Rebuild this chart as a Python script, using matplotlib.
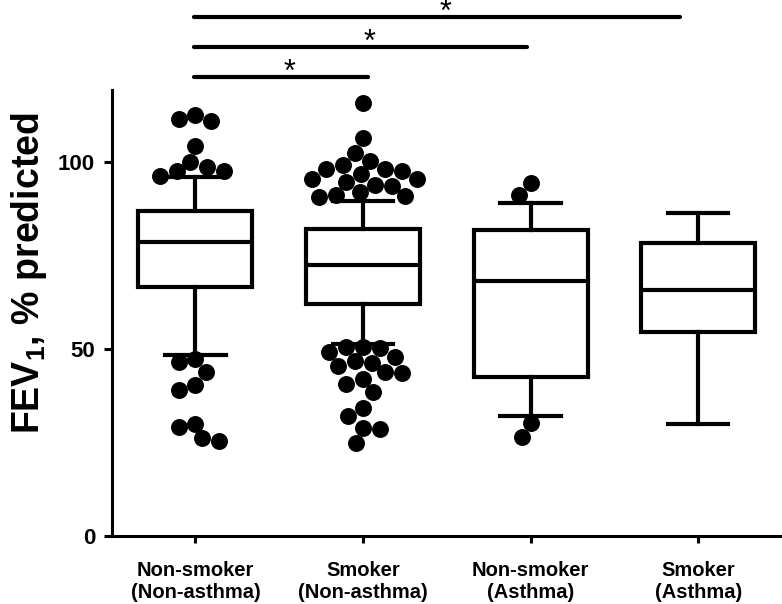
import numpy as np
import matplotlib
matplotlib.use('Agg')
import matplotlib.pyplot as plt

plt.rcParams['font.family'] = ['Liberation Sans', 'DejaVu Sans']
plt.rcParams['mathtext.fontset'] = 'custom'
plt.rcParams['mathtext.rm'] = 'Liberation Sans'
plt.rcParams['mathtext.bf'] = 'Liberation Sans:bold'
plt.rcParams['mathtext.it'] = 'Liberation Sans:italic'

# Data
groups = ['Non-smoker\n(Non-asthma)', 'Smoker\n(Non-asthma)',
          'Non-smoker\n(Asthma)', 'Smoker\n(Asthma)']
q1 = [66.4, 62.0, 42.5, 54.6]
med = [78.6, 72.4, 68.2, 65.7]
q3 = [86.9, 82.0, 81.7, 78.2]
whislo = [48.4, 51.2, 32.1, 29.8]
whishi = [95.9, 89.6, 88.9, 86.4]

outliers_nonsmoker_nonasthma = [112.5, 111.5, 111.0, 104.2, 100.0, 98.7, 97.6, 97.6, 96.3,
                                47.2, 46.5, 43.7, 40.3, 38.9, 30.0, 29.1, 26.0, 25.4]
outliers_smoker_nonasthma = [115.8, 106.3, 102.4, 100.3, 99.1, 98.0, 98.0, 97.6, 96.6,
                             95.4, 95.4, 94.7, 93.8, 93.5, 92.0, 91.1, 90.8, 90.6,
                             50.5, 50.5, 50.1, 49.2, 47.9, 46.8, 46.3, 45.4, 43.9,
                             43.4, 41.9, 40.6, 38.5, 34.1, 32.0, 28.7, 28.4, 24.7]
outliers_nonsmoker_asthma = [94.2, 91.1, 30.2, 26.3]
outliers_smoker_asthma = []
outliers = [outliers_nonsmoker_nonasthma, outliers_smoker_nonasthma,
            outliers_nonsmoker_asthma, outliers_smoker_asthma]

# significance comparisons (group a, group b end, label)
sig_pairs = [(1, 2.03), (1, 2.98), (1, 3.89)]
sig_labels = ['*', '*', '*']


def swarm_offsets(vals, dx, dy):
    # simple beeswarm: place each point at the smallest offset that does not collide
    placed = []
    offs = np.zeros(len(vals))
    cands = [0.0]
    for k in range(1, 60):
        cands += [-k * dx * 0.1, k * dx * 0.1]
    for i in range(len(vals)):
        v = vals[i]
        for c in cands:
            ok = True
            for (px, py) in placed:
                if ((c - px) / dx) ** 2 + ((v - py) / dy) ** 2 < 0.92:
                    ok = False
                    break
            if ok:
                offs[i] = c
                placed.append((c, v))
                break
    return offs


fig = plt.figure(figsize=(7.82, 6.04), dpi=100)
ax = fig.add_axes([0.1428, 0.1131, 0.8572, 0.7379])

positions = np.arange(1, len(groups) + 1)
stats = []
for i in range(len(groups)):
    stats.append(dict(med=med[i], q1=q1[i], q3=q3[i],
                      whislo=whislo[i], whishi=whishi[i], fliers=[]))

lw = 3.0
ax.bxp(stats, positions=positions, widths=0.68, capwidths=0.36,
       showfliers=False, patch_artist=True,
       boxprops=dict(facecolor='white', edgecolor='black', linewidth=lw),
       medianprops=dict(color='black', linewidth=lw),
       whiskerprops=dict(color='black', linewidth=lw),
       capprops=dict(color='black', linewidth=lw))

for pos, vals in zip(positions, outliers):
    if len(vals) == 0:
        continue
    offs = swarm_offsets(vals, 0.101, 4.5)
    ax.scatter(pos + offs, vals, s=12.2 ** 2, color='black', zorder=5,
               linewidths=0)

ax.set_xlim(0.5, 4.5)
ax.set_ylim(0, 119.2)
ax.set_yticks([0, 50, 100])
ax.set_xticks(positions)
ax.set_xticklabels(groups, fontsize=14.5, fontweight='bold')
ax.tick_params(axis='y', labelsize=16, width=2.2, length=6, pad=6)
ax.tick_params(axis='x', width=2.2, length=5, pad=13)
for lab in ax.get_yticklabels():
    lab.set_fontweight('bold')

ax.spines['top'].set_visible(False)
ax.spines['right'].set_visible(False)
ax.spines['left'].set_linewidth(2.2)
ax.spines['bottom'].set_linewidth(2.2)

ax.set_ylabel(r'FEV$_\mathbf{1}$, % predicted', fontsize=27, fontweight='bold')
ax.yaxis.set_label_coords(-0.093, 0.59)

# significance bars
levels = [122.6, 130.7, 138.7]
for (a, b), lev, lab in zip(sig_pairs, levels, sig_labels):
    ax.plot([a - 0.01, b], [lev, lev], color='black', lw=3,
            solid_capstyle='round', clip_on=False)
    ax.text((a + b) / 2 + 0.05, lev + 1.4, r'$\mathrm{%s}$' % lab,
            ha='center', va='center', fontsize=22, clip_on=False)

fig.savefig('out.png', dpi=100)
